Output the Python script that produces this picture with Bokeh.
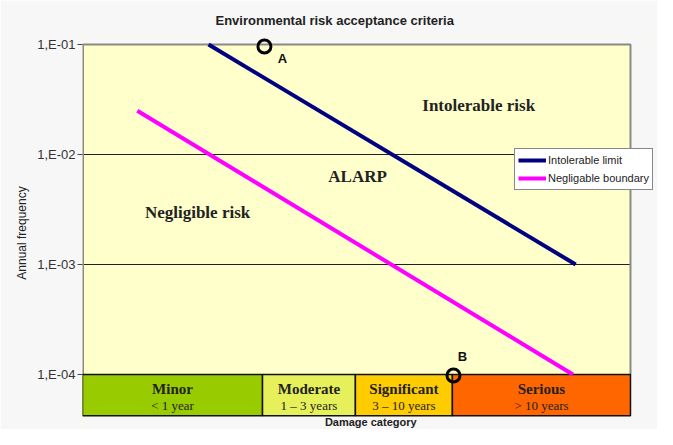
from bokeh.plotting import figure
from bokeh.models import (Legend, LegendItem, FixedTicker, CustomJSTickFormatter,
                          ColumnDataSource, Range1d)
from bokeh.core.properties import value
from bokeh.embed import file_html
from bokeh.resources import INLINE

# ---- data ----
cat_names = ["Minor", "Moderate", "Significant", "Serious"]
cat_sub = ["< 1 year", "1 \u2013 3 years", "3 \u2013 10 years", "> 10 years"]
cat_edges = [0.0, 3.285, 4.98, 6.75, 10.0]
cat_colors = ["#99cc00", "#e6f05a", "#ffcc00", "#ff6600"]

intol_x = [2.3, 9.0]
intol_y = [1e-1, 1e-3]
negl_x = [1.0, 8.95]
negl_y = [2.5e-2, 1e-4]

pts_x = [3.32, 6.77]
pts_y = [0.096, 0.98e-4]
pts_lbl = ["A", "B"]

region_lbl = ["Intolerable risk", "ALARP", "Negligible risk"]
region_x = [7.23, 5.02, 2.10]
region_y = [0.0279, 0.0063, 0.00297]

y_ticks = [1e-4, 1e-3, 1e-2, 1e-1]
chart_x_max = 10.0          # right edge of the chart area
chart_y_max = 1e-1          # top of the chart area
band_top = 1e-4             # top of the damage-category band
band_bottom = 10 ** -4.375  # bottom of the damage-category band

# view extents (a little beyond the chart area, painted as page background)
view_x = (0.0, 10.493)
view_y = (10 ** -4.5, 10 ** -0.927)

BG = "#f7f7f7"
BORDER = "#8a8a84"

p = figure(width=657, height=429, y_axis_type="log",
           x_range=Range1d(*view_x), y_range=Range1d(*view_y),
           x_axis_location=None,
           output_backend="svg", toolbar_location=None,
           min_border_left=82, min_border_right=0,
           min_border_top=36, min_border_bottom=0)

p.background_fill_color = "#ffffcc"
p.border_fill_color = BG
p.outline_line_color = None

p.title.text = "Environmental risk acceptance criteria"
p.title.align = "left"
p.title.offset = 133
p.title.text_font = "Liberation Sans"
p.title.text_font_size = "13px"
p.title.text_font_style = "bold"
p.title.text_color = "#222222"
p.title.standoff = 17

# grid
p.xgrid.visible = False
p.ygrid.ticker = FixedTicker(ticks=y_ticks)
p.ygrid.grid_line_color = "#222222"
p.ygrid.grid_line_width = 1

# y axis
p.yaxis.ticker = FixedTicker(ticks=y_ticks)
p.yaxis.formatter = CustomJSTickFormatter(
    code='return "1,E-" + String(Math.round(-Math.log10(tick))).padStart(2, "0");')
p.yaxis.minor_tick_line_color = None
p.yaxis.major_tick_in = 0
p.yaxis.major_tick_out = 5
p.yaxis.major_tick_line_color = "#444444"
p.yaxis.axis_line_color = None
p.yaxis.major_label_text_font = "Liberation Sans"
p.yaxis.major_label_text_font_size = "13px"
p.yaxis.major_label_text_color = "#333333"
p.yaxis.major_label_standoff = 2
p.yaxis.axis_label = "Annual frequency"
p.yaxis.axis_label_text_font = "Liberation Sans"
p.yaxis.axis_label_text_font_size = "12px"
p.yaxis.axis_label_text_font_style = "normal"
p.yaxis.axis_label_text_color = "#222222"
p.yaxis.axis_label_standoff = 5

# page-background areas outside the chart area
p.quad(left=[view_x[0], chart_x_max, view_x[0]],
       right=[view_x[1], view_x[1], view_x[1]],
       bottom=[view_y[0], view_y[0], chart_y_max],
       top=[band_bottom, view_y[1], view_y[1]],
       fill_color=BG, line_color=None)

# chart borders (top, right, left)
p.line([0, chart_x_max, chart_x_max], [chart_y_max, chart_y_max, band_top],
       line_color=BORDER, line_width=2)
p.line([0, 0], [band_top, chart_y_max], line_color=BORDER, line_width=3)

# category band
band = ColumnDataSource(dict(
    left=cat_edges[:-1], right=cat_edges[1:],
    bottom=[band_bottom] * len(cat_names), top=[band_top] * len(cat_names),
    color=cat_colors,
    cx=[(a + b) / 2 for a, b in zip(cat_edges[:-1], cat_edges[1:])],
    name=cat_names, sub=cat_sub,
))
p.quad(left="left", right="right", bottom="bottom", top="top", source=band,
       fill_color="color", line_color="#111111", line_width=1.5)

span = band_top / band_bottom
name_y = band_bottom * span ** 0.66
sub_y = band_bottom * span ** 0.26
p.text(x="cx", y=name_y, text="name", source=band,
       text_font=value("Liberation Serif"), text_font_style="bold",
       text_font_size="15px", text_align="center", text_baseline="middle",
       text_color="#222222")
p.text(x="cx", y=sub_y, text="sub", source=band,
       text_font=value("Liberation Serif"), text_font_size="13px",
       text_align="center", text_baseline="middle", text_color="#222222")

# x axis title (drawn below the band)
p.text(x=[5.26], y=[10 ** -4.43], text=["Damage category"],
       text_font=value("Liberation Sans"), text_font_style="bold",
       text_font_size="11px", text_align="center", text_baseline="middle",
       text_color="#222222")

# lines
r1 = p.line(intol_x, intol_y, line_color="#000080", line_width=4)
r2 = p.line(negl_x, negl_y, line_color="#ff00ff", line_width=4)

# region labels
p.text(x=region_x, y=region_y, text=region_lbl,
       text_font=value("Liberation Serif"), text_font_style="bold",
       text_font_size="17px", text_align="center", text_baseline="middle",
       text_color="#222222")

# points A, B
p.scatter(pts_x, pts_y, marker="circle", size=13, fill_color=None,
          line_color="black", line_width=3)
p.text(x=pts_x[:1], y=pts_y[:1], text=pts_lbl[:1], x_offset=18, y_offset=12,
       text_font=value("Liberation Sans"), text_font_style="bold",
       text_font_size="13px", text_align="center", text_baseline="middle",
       text_color="#111111")
p.text(x=pts_x[1:], y=pts_y[1:], text=pts_lbl[1:], x_offset=9, y_offset=-19,
       text_font=value("Liberation Sans"), text_font_style="bold",
       text_font_size="13px", text_align="center", text_baseline="middle",
       text_color="#111111")

legend = Legend(items=[LegendItem(label="Intolerable limit", renderers=[r1]),
                       LegendItem(label="Negligable boundary", renderers=[r2])],
                location=(432, 239), margin=0, padding=3, spacing=2,
                glyph_width=28, glyph_height=16, label_standoff=2,
                label_text_font="Liberation Sans", label_text_font_size="11px",
                label_text_color="#222222", label_height=16,
                border_line_color="#111111", border_line_width=1,
                background_fill_color="white", background_fill_alpha=1)
p.add_layout(legend)

open("out.html", "w").write(file_html(p, INLINE))
